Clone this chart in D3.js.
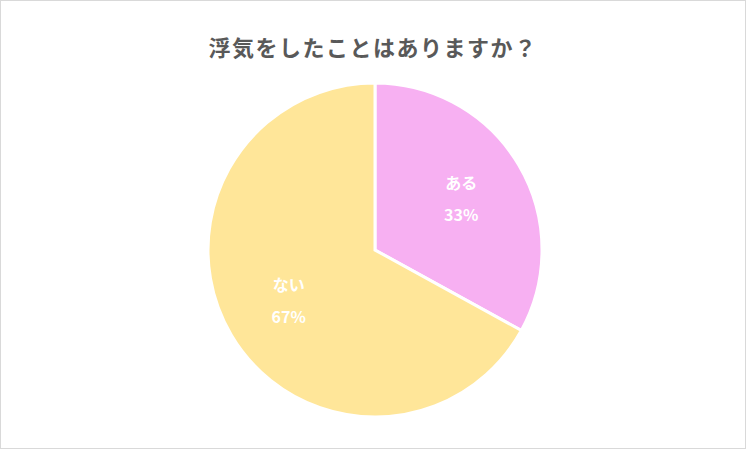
<!DOCTYPE html>
<html><head><meta charset="utf-8">
<script src="https://cdn.jsdelivr.net/npm/d3@7"></script>
<style>body{margin:0;background:#fff}</style></head>
<body><svg id="c" width="746" height="449"></svg>
<script>
const categories = ["ある", "ない"];
const values = [33, 67];
const colors = ["#F7B0F2", "#FFE699"];
const title = "浮気をしたことはありますか？";

const svg = d3.select("#c");
svg.append("rect").attr("x",0.5).attr("y",0.5).attr("width",745).attr("height",448)
  .attr("fill","#fff").attr("stroke","#d9d9d9");
svg.append("text").attr("x",373).attr("y",56).attr("text-anchor","middle")
  .attr("font-family","Noto Sans CJK JP").attr("font-weight","bold").attr("font-size",22)
  .attr("fill","#595959").attr("letter-spacing",1.5).text(title);

const cx=375, cy=250, r=167;
const pie = d3.pie().sort(null).value(d=>d)(values);
const arc = d3.arc().innerRadius(0).outerRadius(r);
const g = svg.append("g").attr("transform",`translate(${cx},${cy})`);
g.selectAll("path").data(pie).join("path").attr("d",arc)
  .attr("fill",(d,i)=>colors[i]).attr("stroke","#fff").attr("stroke-width",3);
const lab = d3.arc().innerRadius(r*0.6).outerRadius(r*0.6);
pie.forEach((d,i)=>{
  const [x,y]=lab.centroid(d);
  const t=g.append("text").attr("text-anchor","middle").attr("fill","#fff")
    .attr("font-family","Noto Sans CJK JP").attr("font-weight","bold").attr("font-size",16);
  t.append("tspan").attr("x",x).attr("y",y-10).text(categories[i]);
  t.append("tspan").attr("x",x).attr("y",y+22).text(values[i]+"%");
});
</script></body></html>
